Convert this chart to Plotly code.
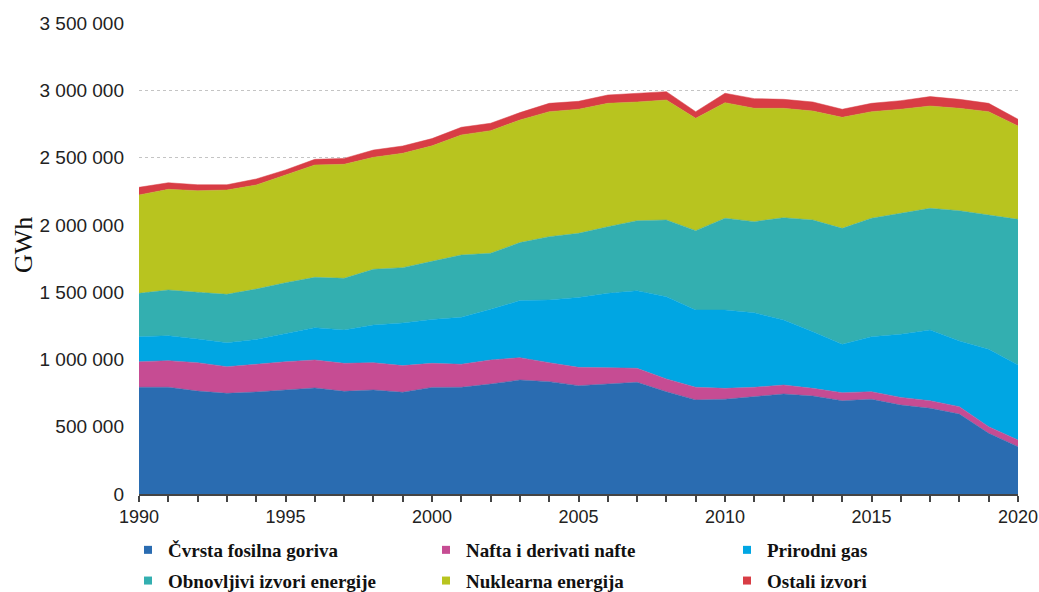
import plotly.graph_objects as go

years = list(range(1990, 2021))

# GWh
cvrsta = [793000, 793000, 765000, 748000, 758000, 773000, 788000, 763000, 773000, 756000,
          792000, 793000, 817000, 847000, 835000, 805000, 817000, 830000, 760000, 699000,
          704000, 723000, 743000, 728000, 693000, 704000, 661000, 637000, 594000, 451000, 352000]
nafta = [190000, 198000, 211000, 198000, 206000, 210000, 208000, 208000, 203000, 198000,
         179000, 171000, 179000, 166000, 141000, 136000, 122000, 104000, 95000, 94000,
         81000, 70000, 67000, 57000, 60000, 56000, 57000, 56000, 55000, 49000, 49000]
plin = [186000, 185000, 176000, 178000, 185000, 211000, 240000, 248000, 280000, 317000,
        326000, 349000, 376000, 424000, 466000, 520000, 552000, 577000, 611000, 574000,
        582000, 554000, 483000, 421000, 359000, 409000, 469000, 526000, 488000, 575000, 558000]
obnovljivi = [322000, 340000, 347000, 360000, 374000, 376000, 374000, 384000, 414000, 411000,
              432000, 463000, 417000, 431000, 470000, 476000, 495000, 520000, 570000, 590000,
              682000, 677000, 760000, 830000, 862000, 880000, 899000, 904000, 968000, 998000, 1082000]
nuklearna = [731000, 748000, 755000, 775000, 773000, 800000, 835000, 847000, 832000, 850000,
             858000, 892000, 911000, 911000, 929000, 922000, 917000, 882000, 892000, 835000,
             859000, 842000, 813000, 810000, 825000, 792000, 773000, 760000, 761000, 768000, 694000]
ostali = [57000, 49000, 44000, 39000, 45000, 38000, 42000, 44000, 54000, 54000,
          54000, 57000, 55000, 55000, 62000, 59000, 62000, 65000, 62000, 49000,
          70000, 72000, 67000, 67000, 60000, 62000, 64000, 70000, 67000, 62000, 50000]

names = ["Čvrsta fosilna goriva", "Nafta i derivati nafte", "Prirodni gas",
         "Obnovljivi izvori energije", "Nuklearna energija", "Ostali izvori"]
series = [cvrsta, nafta, plin, obnovljivi, nuklearna, ostali]
colors = ["#2A6CB1", "#C64C93", "#00A6E3", "#33AFB0", "#B8C41F", "#D83D45"]
legend_ids = ["legend", "legend2", "legend3", "legend", "legend2", "legend3"]
y_title = "GWh"

x_labels = [str(y) if y % 5 == 0 else "" for y in years]

fig = go.Figure()
for name, vals, col in zip(names, series, colors):
    fig.add_trace(go.Scatter(
        x=years, y=vals, name=name, stackgroup="one", mode="lines",
        line=dict(width=0.5, color=col), fillcolor=col, showlegend=False,
    ))

for i, (name, col, lg) in enumerate(zip(names, colors, legend_ids)):
    fig.add_trace(go.Scatter(
        x=[None], y=[None], name=name, mode="markers", legendgroup="g%d" % i,
        marker=dict(symbol="square", size=8, color=col), legend=lg, showlegend=True,
    ))

W, H = 1039, 592
legend_font = dict(family="Liberation Serif", size=19, color="#111111", weight="bold")
common_legend = dict(xref="container", yref="container", yanchor="top", xanchor="left",
                     y=1 - 531 / H, font=legend_font, bgcolor="rgba(0,0,0,0)",
                     traceorder="grouped", tracegroupgap=3, orientation="v")

fig.update_layout(
    width=W, height=H,
    margin=dict(l=139, r=21, t=23, b=98, autoexpand=False),
    paper_bgcolor="white", plot_bgcolor="white",
    separators=". ",
    showlegend=True,
    legend=dict(x=128 / W, **common_legend),
    legend2=dict(x=426 / W, **common_legend),
    legend3=dict(x=727 / W, **common_legend),
    xaxis=dict(
        range=[1990, 2020], tickmode="array", tickvals=years, ticktext=x_labels,
        ticks="outside", ticklen=6, tickwidth=1.5, tickcolor="#444444",
        showline=True, linecolor="#444444", linewidth=1.5, showgrid=False, zeroline=False,
        ticklabeloverflow="allow",
        tickfont=dict(family="Liberation Sans", size=18, color="#222222"),
    ),
    yaxis=dict(
        range=[0, 3500000], dtick=500000, tickformat=",d",
        showgrid=True, gridcolor="#c4c4c4", griddash="dot", gridwidth=1,
        showline=False, zeroline=False, ticks="", ticklabelstandoff=14,
        tickfont=dict(family="Liberation Sans", size=19, color="#222222"),
    ),
    annotations=[dict(
        text=y_title, xref="paper", yref="paper", x=-116 / 879, y=249 / 471,
        xanchor="center", yanchor="middle", textangle=-90, showarrow=False,
        borderpad=0,
        font=dict(family="Liberation Serif", size=26, color="#111111"),
    )],
)

fig.write_html("out.html", config={"displayModeBar": False},
               post_script="document.body.style.margin='0px';")
